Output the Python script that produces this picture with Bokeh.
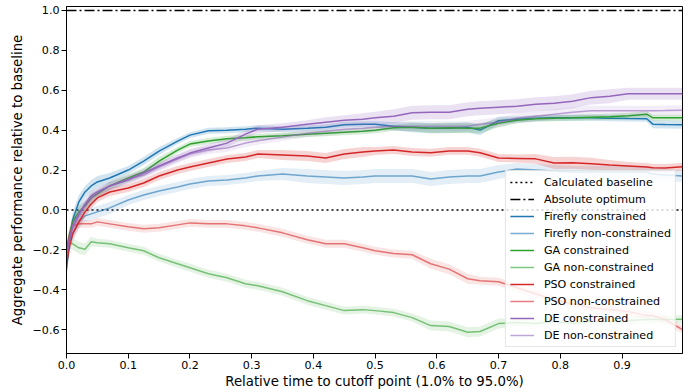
from bokeh.plotting import figure
from bokeh.models import Range1d, FixedTicker, CustomJSTickFormatter, Legend, LegendItem
from bokeh.embed import file_html
from bokeh.resources import INLINE

# ---------------- data ----------------
X = [0.0, 0.005, 0.01, 0.02, 0.03, 0.04, 0.05, 0.07, 0.1, 0.125,
     0.15, 0.18, 0.2, 0.23, 0.26, 0.29, 0.31, 0.35, 0.39, 0.42,
     0.45, 0.48, 0.5, 0.53, 0.56, 0.59, 0.62, 0.65, 0.67, 0.7,
     0.73, 0.76, 0.79, 0.82, 0.85, 0.88, 0.91, 0.94, 0.95, 0.97,
     0.998]

firefly_con = [-0.30, -0.15, -0.05, 0.04, 0.09, 0.12, 0.14, 0.16, 0.20, 0.245,
               0.295, 0.345, 0.375, 0.397, 0.40, 0.405, 0.41, 0.405, 0.41, 0.415,
               0.427, 0.43, 0.43, 0.42, 0.415, 0.41, 0.41, 0.415, 0.40, 0.447,
               0.455, 0.46, 0.462, 0.462, 0.462, 0.46, 0.458, 0.457, 0.43, 0.428,
               0.427]
firefly_non = [-0.25, -0.17, -0.12, -0.06, -0.03, -0.02, -0.01, 0.01, 0.05, 0.075,
               0.095, 0.115, 0.13, 0.145, 0.15, 0.16, 0.17, 0.18, 0.17, 0.165,
               0.16, 0.165, 0.17, 0.17, 0.17, 0.155, 0.165, 0.17, 0.17, 0.19,
               0.205, 0.2, 0.195, 0.19, 0.19, 0.19, 0.19, 0.19, 0.18, 0.175,
               0.17]
ga_con = [-0.20, -0.12, -0.06, -0.01, 0.02, 0.06, 0.08, 0.12, 0.16, 0.19,
          0.245, 0.30, 0.33, 0.345, 0.357, 0.362, 0.367, 0.372, 0.38, 0.385,
          0.39, 0.395, 0.40, 0.412, 0.415, 0.41, 0.412, 0.41, 0.41, 0.435,
          0.45, 0.457, 0.46, 0.462, 0.465, 0.467, 0.472, 0.48, 0.462, 0.462,
          0.462]
ga_non = [-0.17, -0.165, -0.17, -0.19, -0.197, -0.16, -0.165, -0.17, -0.19, -0.205,
          -0.24, -0.27, -0.29, -0.32, -0.34, -0.37, -0.38, -0.41, -0.455, -0.48,
          -0.505, -0.5, -0.505, -0.515, -0.54, -0.58, -0.585, -0.613, -0.61, -0.57,
          -0.565, -0.57, -0.56, -0.57, -0.56, -0.56, -0.555, -0.55, -0.55, -0.55,
          -0.548]
pso_con = [-0.27, -0.18, -0.12, -0.06, -0.01, 0.03, 0.06, 0.09, 0.11, 0.135,
           0.17, 0.2, 0.215, 0.235, 0.255, 0.265, 0.28, 0.275, 0.27, 0.26,
           0.28, 0.29, 0.295, 0.3, 0.29, 0.287, 0.296, 0.296, 0.287, 0.26,
           0.258, 0.256, 0.235, 0.236, 0.232, 0.225, 0.22, 0.215, 0.212, 0.21,
           0.216]
pso_non = [-0.22, -0.12, -0.08, -0.07, -0.07, -0.07, -0.06, -0.07, -0.085, -0.095,
           -0.09, -0.075, -0.065, -0.07, -0.07, -0.08, -0.09, -0.115, -0.15, -0.17,
           -0.17, -0.19, -0.205, -0.218, -0.225, -0.27, -0.297, -0.345, -0.355, -0.36,
           -0.39, -0.42, -0.45, -0.47, -0.49, -0.5, -0.51, -0.53, -0.53, -0.55,
           -0.6]
de_con = [-0.22, -0.14, -0.08, -0.02, 0.03, 0.07, 0.09, 0.12, 0.15, 0.185,
          0.22, 0.26, 0.285, 0.31, 0.335, 0.38, 0.405, 0.415, 0.43, 0.44,
          0.45, 0.455, 0.462, 0.47, 0.487, 0.49, 0.49, 0.505, 0.51, 0.515,
          0.52, 0.53, 0.535, 0.545, 0.563, 0.57, 0.583, 0.583, 0.583, 0.583,
          0.583]
de_non = [-0.24, -0.15, -0.09, -0.03, 0.02, 0.06, 0.085, 0.12, 0.155, 0.175,
          0.215, 0.255, 0.28, 0.3, 0.31, 0.335, 0.347, 0.365, 0.385, 0.395,
          0.405, 0.41, 0.415, 0.42, 0.42, 0.42, 0.42, 0.42, 0.43, 0.44,
          0.46, 0.47, 0.48, 0.49, 0.497, 0.497, 0.497, 0.497, 0.497, 0.498,
          0.5]

# half-width of the shaded spread around each mean curve
firefly_con_sd = [0.04, 0.04, 0.04, 0.035, 0.03, 0.03, 0.03, 0.025, 0.02, 0.02,
                  0.02, 0.015, 0.015, 0.015, 0.015, 0.015, 0.015, 0.015, 0.015, 0.015,
                  0.015, 0.015, 0.015, 0.02, 0.025, 0.025, 0.025, 0.025, 0.025, 0.02,
                  0.015, 0.015, 0.015, 0.015, 0.015, 0.015, 0.015, 0.015, 0.02, 0.02,
                  0.02]
firefly_non_sd = [0.04, 0.04, 0.04, 0.035, 0.03, 0.03, 0.03, 0.03, 0.025, 0.025,
                  0.025, 0.025, 0.025, 0.025, 0.025, 0.025, 0.025, 0.03, 0.035, 0.035,
                  0.035, 0.035, 0.035, 0.035, 0.035, 0.035, 0.035, 0.035, 0.035, 0.035,
                  0.03, 0.03, 0.03, 0.03, 0.03, 0.03, 0.03, 0.03, 0.03, 0.03,
                  0.03]
ga_con_sd = [0.03, 0.03, 0.03, 0.03, 0.025, 0.025, 0.02, 0.02, 0.02, 0.02,
             0.02, 0.015, 0.015, 0.015, 0.015, 0.015, 0.015, 0.015, 0.015, 0.015,
             0.015, 0.015, 0.015, 0.015, 0.02, 0.025, 0.025, 0.025, 0.025, 0.02,
             0.015, 0.015, 0.015, 0.015, 0.015, 0.015, 0.015, 0.015, 0.015, 0.015,
             0.015]
ga_non_sd = [0.03, 0.03, 0.03, 0.03, 0.03, 0.025, 0.02, 0.02, 0.02, 0.02,
             0.02, 0.02, 0.02, 0.02, 0.02, 0.02, 0.02, 0.02, 0.02, 0.02,
             0.02, 0.02, 0.02, 0.02, 0.02, 0.025, 0.025, 0.025, 0.025, 0.025,
             0.02, 0.02, 0.02, 0.02, 0.02, 0.02, 0.02, 0.02, 0.02, 0.02,
             0.02]
pso_con_sd = [0.03, 0.03, 0.03, 0.03, 0.025, 0.025, 0.02, 0.02, 0.02, 0.02,
              0.02, 0.02, 0.02, 0.02, 0.02, 0.02, 0.02, 0.025, 0.025, 0.025,
              0.025, 0.025, 0.02, 0.02, 0.02, 0.02, 0.02, 0.02, 0.02, 0.02,
              0.02, 0.025, 0.03, 0.03, 0.03, 0.025, 0.02, 0.02, 0.02, 0.02,
              0.02]
pso_non_sd = [0.03, 0.03, 0.025, 0.02, 0.02, 0.02, 0.02, 0.02, 0.02, 0.02,
              0.02, 0.02, 0.02, 0.02, 0.02, 0.02, 0.02, 0.02, 0.02, 0.02,
              0.02, 0.02, 0.02, 0.02, 0.02, 0.025, 0.025, 0.025, 0.02, 0.02,
              0.02, 0.02, 0.02, 0.02, 0.02, 0.02, 0.02, 0.02, 0.02, 0.02,
              0.02]
de_con_sd = [0.03, 0.03, 0.03, 0.03, 0.025, 0.025, 0.02, 0.02, 0.02, 0.02,
             0.02, 0.02, 0.02, 0.02, 0.02, 0.02, 0.02, 0.02, 0.02, 0.025,
             0.025, 0.03, 0.03, 0.035, 0.035, 0.035, 0.035, 0.035, 0.035, 0.035,
             0.035, 0.035, 0.035, 0.035, 0.035, 0.035, 0.03, 0.03, 0.03, 0.03,
             0.03]
de_non_sd = [0.03, 0.03, 0.03, 0.03, 0.025, 0.025, 0.02, 0.02, 0.02, 0.02,
             0.02, 0.02, 0.02, 0.02, 0.02, 0.02, 0.02, 0.02, 0.02, 0.02,
             0.02, 0.02, 0.02, 0.02, 0.025, 0.025, 0.025, 0.025, 0.025, 0.025,
             0.025, 0.025, 0.025, 0.025, 0.025, 0.025, 0.025, 0.025, 0.025, 0.025,
             0.025]

BASELINE = 0.0
OPTIMUM = 1.0
XTICKS = [0.0, 0.1, 0.2, 0.3, 0.4, 0.5, 0.6, 0.7, 0.8, 0.9]
YTICKS = [-0.6, -0.4, -0.2, 0.0, 0.2, 0.4, 0.6, 0.8, 1.0]

series = [
    ("Firefly constrained", firefly_con, firefly_con_sd, "#1f77b4", 1.0),
    ("Firefly non-constrained", firefly_non, firefly_non_sd, "#1f77b4", 0.6),
    ("GA constrained", ga_con, ga_con_sd, "#2ca02c", 1.0),
    ("GA non-constrained", ga_non, ga_non_sd, "#2ca02c", 0.6),
    ("PSO constrained", pso_con, pso_con_sd, "#d62728", 1.0),
    ("PSO non-constrained", pso_non, pso_non_sd, "#d62728", 0.6),
    ("DE constrained", de_con, de_con_sd, "#9467bd", 1.0),
    ("DE non-constrained", de_non, de_non_sd, "#9467bd", 0.6),
]

FONT = "DejaVu Sans"
TICK_FS = "11.1px"
LABEL_FS = "13.3px"
LEGEND_FS = "11.1px"

p = figure(width=697, height=392, output_backend="svg", toolbar_location=None,
           x_range=Range1d(0.0, 0.998), y_range=Range1d(-0.72, 1.02),
           min_border_left=66, min_border_right=15, min_border_top=6, min_border_bottom=39)
p.grid.visible = False
p.outline_line_color = "black"
p.outline_line_width = 1
p.background_fill_color = "white"
p.border_fill_color = "white"

for ax in (p.xaxis[0], p.yaxis[0]):
    ax.major_label_text_font = FONT
    ax.major_label_text_font_size = TICK_FS
    ax.major_label_text_color = "black"
    ax.axis_label_text_font = FONT
    ax.axis_label_text_font_size = LABEL_FS
    ax.axis_label_text_font_style = "normal"
    ax.axis_label_text_color = "black"
    ax.major_tick_out = 5
    ax.major_tick_in = 0
    ax.minor_tick_out = 0
    ax.minor_tick_in = 0
    ax.axis_line_color = "black"
    ax.major_tick_line_color = "black"
    ax.major_label_standoff = 2
    ax.axis_label_standoff = 2

p.yaxis[0].axis_label_standoff = 5
p.xaxis.axis_label = "Relative time to cutoff point (1.0% to 95.0%)"
p.yaxis.axis_label = "Aggregate performance relative to baseline"
p.xaxis.ticker = FixedTicker(ticks=XTICKS)
p.yaxis.ticker = FixedTicker(ticks=YTICKS)
fmt_code = """
const v = Math.abs(tick) < 1e-9 ? 0 : tick;
return (v < 0 ? '\u2212' : '') + Math.abs(v).toFixed(1);
"""
p.xaxis.formatter = CustomJSTickFormatter(code=fmt_code)
p.yaxis.formatter = CustomJSTickFormatter(code=fmt_code)

# reference lines
r_base = p.line([X[0], X[-1]], [BASELINE, BASELINE], line_color="black",
                line_width=1.5, line_dash="2 3")
r_opt = p.line([X[0], X[-1]], [OPTIMUM, OPTIMUM], line_color="black",
               line_width=1.5, line_dash="10 3 2 3")

items = [LegendItem(label="Calculated baseline", renderers=[r_base]),
         LegendItem(label="Absolute optimum", renderers=[r_opt])]

for label, ys, sd, color, alpha in series:
    lo = [y - s for y, s in zip(ys, sd)]
    hi = [y + s for y, s in zip(ys, sd)]
    p.varea(x=X, y1=lo, y2=hi, fill_color=color,
            fill_alpha=0.2 if alpha == 1.0 else 0.12)
    r = p.line(X, ys, line_color=color, line_alpha=alpha, line_width=1.5)
    items.append(LegendItem(label=label, renderers=[r]))

legend = Legend(items=items, location="bottom_right",
                label_text_font=FONT, label_text_font_size=LEGEND_FS,
                label_text_color="black",
                glyph_width=24, glyph_height=14, label_height=14,
                spacing=3, padding=4, margin=6, label_standoff=10,
                border_line_color="#cccccc", border_line_width=1,
                background_fill_color="white", background_fill_alpha=0.8)
p.add_layout(legend)

open("out.html", "w").write(file_html(p, INLINE))
